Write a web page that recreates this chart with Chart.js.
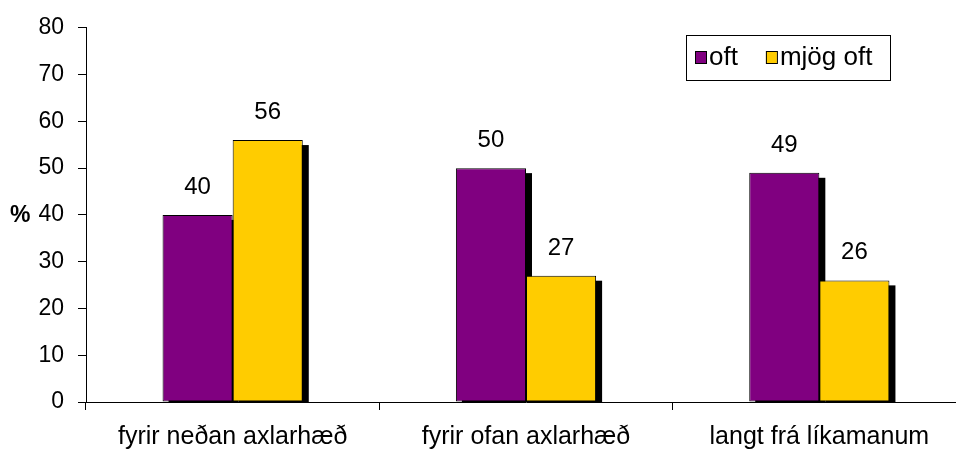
<!DOCTYPE html>
<html>
<head>
<meta charset="utf-8">
<script src="https://cdn.jsdelivr.net/npm/chart.js@4"></script>
<style>
	html, body {margin: 0; padding: 0; background: #ffffff; overflow: hidden;}
	#wrap {width: 966px; height: 453px;}
</style>
</head>
<body>
<div id="wrap"><canvas id="chart"></canvas></div>
<script>
const categories = ["fyrir neðan axlarhæð", "fyrir ofan axlarhæð", "langt frá líkamanum"];
const seriesNames = ["oft", "mjög oft"];
const oftValues = [40, 50, 49];
const mjogOftValues = [56, 27, 26];
const yTicks = [0, 10, 20, 30, 40, 50, 60, 70, 80];
const seriesColors = ["#800080", "#ffcc00"];

const font = "Arial, 'Liberation Sans', sans-serif";

// black drop shadow to the right of each bar, drawn before the bars
const shadowPlugin = {
	"id": "barShadow",
	beforeDatasetsDraw(chart) {
		const ctx = chart.ctx;
		const base = chart.scales.y.getPixelForValue(0);
		ctx.save();
		ctx.fillStyle = "#000000";
		chart.data.datasets.forEach(function (ds, i) {
			chart.getDatasetMeta(i).data.forEach(function (bar) {
				const left = bar.x - bar.width / 2 + 6;
				ctx.fillRect(left, bar.y + 5, bar.width, base - bar.y - 5);
			});
		});
		ctx.restore();
	},
	afterDatasetsDraw(chart) {
		const ctx = chart.ctx;
		ctx.save();
		ctx.fillStyle = "#000000";
		ctx.font = "24px " + font;
		ctx.textAlign = "center";
		ctx.textBaseline = "alphabetic";
		chart.data.datasets.forEach(function (ds, i) {
			chart.getDatasetMeta(i).data.forEach(function (bar, j) {
				ctx.fillText(String(ds.data[j]), bar.x, bar.y - 21);
			});
		});
		ctx.restore();
	},
	afterDraw(chart) {
		const ctx = chart.ctx;
		ctx.save();
		// "%" axis title
		ctx.fillStyle = "#000000";
		ctx.font = "bold 23px " + font;
		ctx.textAlign = "left";
		ctx.textBaseline = "middle";
		ctx.fillText("%", 10, chart.scales.y.getPixelForValue(40) + 1);

		// legend with frame
		ctx.strokeStyle = "#000000";
		ctx.lineWidth = 1;
		ctx.strokeRect(686.5, 35.5, 204, 45);
		ctx.font = "26px " + font;
		let x = 695;
		chart.data.datasets.forEach(function (ds) {
			ctx.fillStyle = ds.backgroundColor;
			ctx.fillRect(x, 51, 11, 12);
			ctx.strokeRect(x + 0.5, 51.5, 11, 12);
			ctx.fillStyle = "#000000";
			ctx.fillText(ds.label, x + 14, 58);
			x += 14 + ctx.measureText(ds.label).width + 28;
		});
		ctx.restore();
	},
};

new Chart(document.getElementById("chart"), {
	"type": "bar",
	"data": {
		"labels": categories,
		"datasets": [
			{"label": seriesNames[0], "data": oftValues, "backgroundColor": seriesColors[0]},
			{"label": seriesNames[1], "data": mjogOftValues, "backgroundColor": seriesColors[1]},
		].map((ds) => ({...ds, "borderColor": "#000000", "borderWidth": 1, "borderSkipped": false})),
	},
	"options": {
		"responsive": true,
		"maintainAspectRatio": false,
		"animation": false,
		"datasets": {"bar": {"categoryPercentage": 0.478, "barPercentage": 1}},
		"layout": {"padding": {"left": 0, "top": 25, "right": 0, "bottom": 0}},
		"plugins": {
			"legend": {"display": false},
			"tooltip": {"enabled": false},
		},
		"scales": {
			"x": {
				"afterFit": (scale) => { scale.height = 51; },
				"grid": {"drawOnChartArea": false, "offset": true, "color": "#000000", "tickLength": 8, "tickColor": "#000000"},
				"border": {"color": "#000000", "width": 1},
				"ticks": {"color": "#000000", "font": {"family": font, "size": 25}, "padding": 12, "maxRotation": 0},
			},
			"y": {
				"min": 0,
				"max": 80,
				"afterFit": (scale) => { scale.width = 86; },
				"afterBuildTicks": (scale) => { scale.ticks = yTicks.map((v) => ({"value": v})); },
				"grid": {"drawOnChartArea": false, "color": "#000000", "tickLength": 8, "tickColor": "#000000"},
				"border": {"color": "#000000", "width": 1},
				"ticks": {"color": "#000000", "font": {"family": font, "size": 23}, "padding": 14},
			},
		},
	},
	"plugins": [shadowPlugin],
});
</script>
</body>
</html>
